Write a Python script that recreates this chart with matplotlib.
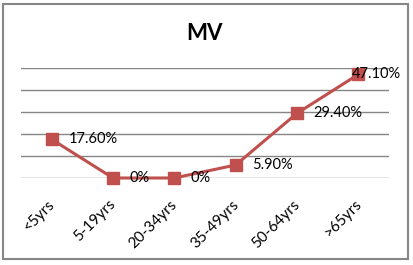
import matplotlib
matplotlib.use("Agg")
import matplotlib.pyplot as plt
from matplotlib.patches import Rectangle
from matplotlib.transforms import ScaledTranslation

categories = ["<5yrs", "5-19yrs", "20-34yrs", "35-49yrs", "50-64yrs", ">65yrs"]
values = [17.6, 0, 0, 5.9, 29.4, 47.1]
labels = ["17.60%", "0%", "0%", "5.90%", "29.40%", "47.10%"]

plt.rcParams["font.family"] = ["Lato", "DejaVu Sans"]

fig = plt.figure(figsize=(4.13, 2.65), dpi=100)
ax = fig.add_axes([0.0508, 0.3283, 0.891, 0.4151])

# cadre gris autour du graphe
fig.patches.append(Rectangle((3 / 413, 1 - 259 / 265), 405 / 413, 255 / 265,
                             transform=fig.transFigure, fill=False,
                             edgecolor="#868686", linewidth=1.5))

x = list(range(len(categories)))
for yg in range(0, 60, 10):
    ax.axhline(yg, color="#868686", linewidth=1, zorder=1)

ax.plot(x, values, color="#C0504D", linewidth=2.2, marker="s",
        markersize=9.3, zorder=3, clip_on=False)

for xi, v, lab in zip(x, values, labels):
    # la derniere etiquette est decalee pour rester dans le cadre
    dx = 12 if xi < len(x) - 1 else -5
    ax.annotate(lab, (xi, v), xytext=(dx, 0), textcoords="offset points",
                ha="left", va="center", fontsize=10.5, color="black", zorder=4)

ax.set_xlim(-0.5, 5.5)
ax.set_ylim(0, 50)
ax.set_yticks([])
ax.set_xticks(x)
ax.set_xticklabels(categories, rotation=45, ha="right", rotation_mode="anchor",
                   fontsize=11)
ax.tick_params(axis="x", length=0, pad=14)
for lbl in ax.get_xticklabels():
    lbl.set_transform(lbl.get_transform() +
                      ScaledTranslation(-3 / 72, 0, fig.dpi_scale_trans))
for s in ax.spines.values():
    s.set_visible(False)

fig.text(205 / 413, 1 - 33 / 265, "MV", ha="center", va="center",
         fontsize=16, fontweight="bold")

fig.savefig("out.png", dpi=100)
